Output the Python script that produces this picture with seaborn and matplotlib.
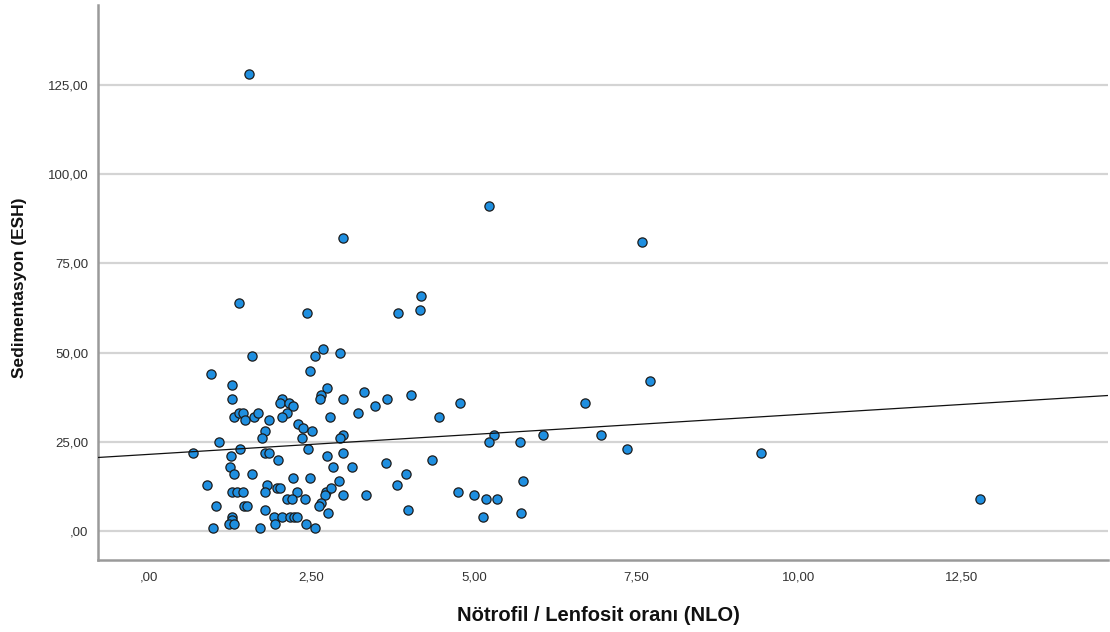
import numpy as np
import pandas as pd
import matplotlib
matplotlib.use("Agg")
import matplotlib.pyplot as plt
from matplotlib.ticker import MultipleLocator, FuncFormatter
import seaborn as sns

# NLO (x) and ESH (y) values
nlo = [
    1.38, 2.43, 2.67, 2.56, 2.94, 1.58, 2.47, 0.96, 1.28, 1.28,
    2.74, 2.65, 2.63, 2.98, 3.30, 3.48, 3.66, 3.22, 2.78, 2.05,
    2.02, 2.15, 2.21, 2.12, 2.04, 1.30, 1.39, 1.45, 1.47, 1.62,
    1.67, 1.84, 1.79, 1.74, 2.29, 2.37, 2.50, 2.36, 2.99, 2.94,
    2.45, 1.07, 1.40, 0.67, 1.26, 1.78, 1.84, 1.99, 2.74, 2.99,
    2.83, 3.13, 3.65, 1.24, 1.31, 1.59, 2.22, 2.47, 0.89, 1.81,
    2.93, 1.28, 1.36, 1.45, 1.79, 1.97, 2.02, 2.28, 2.73, 2.80,
    2.99, 3.34, 2.70, 2.12, 2.20, 2.40, 2.64, 2.62, 1.03, 1.46,
    1.51, 1.79, 2.75, 1.28, 1.28, 1.23, 1.30, 1.93, 2.05, 2.17,
    2.23, 2.27, 1.94, 2.42, 0.99, 1.71, 2.55,
    5.23, 7.59, 4.19, 3.83, 4.17, 7.71, 4.03, 4.46, 4.79, 6.70,
    5.30, 5.23, 5.71, 6.06, 6.96, 7.35, 9.42, 3.95, 3.81, 4.35,
    5.75, 4.76, 5.00, 5.18, 5.36, 3.98, 5.14, 5.73,
    1.54, 2.98, 12.78,
]
esh = [
    64, 61, 51, 49, 50, 49, 45, 44, 41, 37,
    40, 38, 37, 37, 39, 35, 37, 33, 32, 37,
    36, 36, 35, 33, 32, 32, 33, 33, 31, 32,
    33, 31, 28, 26, 30, 29, 28, 26, 27, 26,
    23, 25, 23, 22, 21, 22, 22, 20, 21, 22,
    18, 18, 19, 18, 16, 16, 15, 15, 13, 13,
    14, 11, 11, 11, 11, 12, 12, 11, 11, 12,
    10, 10, 10, 9, 9, 9, 8, 7, 7, 7,
    7, 6, 5, 4, 3, 2, 2, 4, 4, 4,
    4, 4, 2, 2, 1, 1, 1,
    91, 81, 66, 61, 62, 42, 38, 32, 36, 36,
    27, 25, 25, 27, 27, 23, 22, 16, 13, 20,
    14, 11, 10, 9, 9, 6, 4, 5,
    128, 82, 9,
]

x_label = "Nötrofil / Lenfosit oranı (NLO)"
y_label = "Sedimentasyon (ESH)"


def spss_fmt(v, pos=None):
    s = f"{v:.2f}".replace(".", ",")
    if s.startswith("0,"):
        s = s[1:]
    return s


def main():
    df = pd.DataFrame({"NLO": nlo, "ESH": esh})

    sns.set_style("white")
    plt.rcParams["font.family"] = ["Liberation Sans", "DejaVu Sans"]

    fig = plt.figure(figsize=(11.1, 6.32), dpi=100)
    ax = fig.add_axes([0.0883, 0.1139, 0.9097, 0.8781])
    ax.set_xlim(-0.785, 14.75)
    ax.set_ylim(-8.1, 147.4)

    # horizontal grid only, behind the points
    ax.yaxis.set_major_locator(MultipleLocator(25))
    ax.xaxis.set_major_locator(MultipleLocator(2.5))
    ax.set_axisbelow(True)
    ax.grid(axis="y", color="#d4d4d4", linewidth=1.6)
    ax.grid(axis="x", visible=False)

    sns.scatterplot(
        data=df, x="NLO", y="ESH", ax=ax,
        color="#1f8fe0", edgecolor="#1c1c1c", linewidth=0.9,
        s=44, zorder=3, legend=False,
    )
    # fit line across the whole x range
    sns.regplot(
        data=df, x="NLO", y="ESH", ax=ax, scatter=False, ci=None,
        truncate=False, line_kws={"color": "#111111", "linewidth": 0.9, "zorder": 4},
    )
    ax.set_xlim(-0.785, 14.75)
    ax.set_ylim(-8.1, 147.4)

    ax.xaxis.set_major_formatter(FuncFormatter(spss_fmt))
    ax.yaxis.set_major_formatter(FuncFormatter(spss_fmt))
    ax.tick_params(axis="both", length=0, labelsize=9.5, labelcolor="#333333")
    ax.tick_params(axis="x", pad=8)
    ax.tick_params(axis="y", pad=7)

    for side in ("top", "right"):
        ax.spines[side].set_visible(False)
    for side in ("left", "bottom"):
        ax.spines[side].set_color("#9a9a9a")
        ax.spines[side].set_linewidth(1.8)

    ax.set_xlabel(x_label, fontsize=14.5, fontweight="bold", color="#111111")
    ax.set_ylabel(y_label, fontsize=12.5, fontweight="bold", color="#111111")
    ax.xaxis.set_label_coords(0.496, -0.082)
    ax.yaxis.set_label_coords(-0.070, 0.49)

    fig.savefig("out.png", dpi=100)
    plt.close(fig)


if __name__ == "__main__":
    main()
